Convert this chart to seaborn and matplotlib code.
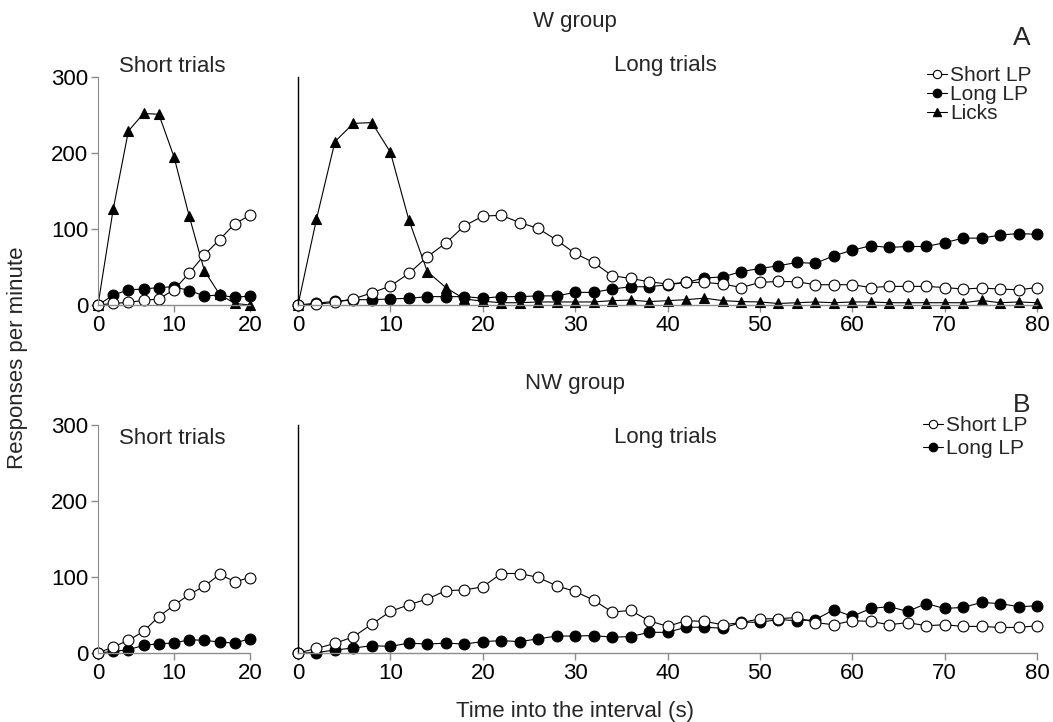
import numpy as np
import matplotlib
matplotlib.use("Agg")
import matplotlib.pyplot as plt
from matplotlib.lines import Line2D
import seaborn as sns

# ---------------- data ----------------
x_short = [0, 2, 4, 6, 8, 10, 12, 14, 16, 18, 20]
x_long = list(range(0, 81, 2))

w_short_shortlp = [0, 2, 3.5, 6, 8, 20, 42, 66, 86, 107, 118]
w_short_longlp = [0, 13, 20, 21, 23, 24, 19, 12, 13, 10, 12]
w_short_licks = [0, 126, 229, 252, 251, 195, 117, 45, 14, 2, 0]

w_long_shortlp = [0, 1, 3.5, 8, 16, 25, 41.5, 63.5, 81.5, 104, 117, 118, 108.5, 100.7,
                  85.4, 67.8, 56, 38.5, 35, 30.6, 27.6, 29.7, 29.7, 27.6, 23, 29.7, 31,
                  30.6, 26.7, 26.7, 26.7, 23, 24.5, 24.5, 24.5, 23, 21, 22.3, 21, 20, 23]
w_long_longlp = [0, 2.5, 4.7, 7, 7, 8, 8.8, 11, 11, 11, 9, 11, 11, 12, 12, 16.6, 16.6,
                 21, 24, 24, 26.7, 29.7, 35.5, 37, 44, 48, 51.6, 56, 54.7, 64.8, 72, 78,
                 75.7, 77, 77, 82, 88, 88, 92, 94, 93]
w_long_licks = [0, 113, 215, 239, 240, 201, 112, 44, 23, 8, 5, 3, 3, 4, 4, 4, 4, 5.7,
                6.5, 4.5, 5.7, 7, 9, 5.7, 4.5, 4, 2, 3, 4, 3, 4, 4, 3, 3, 3, 3, 3, 6, 3,
                4, 3]

nw_short_shortlp = [0, 8, 16.6, 28.5, 48, 62.7, 77, 88, 103.4, 94, 99]
nw_short_longlp = [0, 2, 4.4, 10, 12.3, 13, 17.5, 16.6, 14.5, 13, 19]

nw_long_shortlp = [0, 6, 12.6, 21.4, 38, 54.7, 63.5, 71, 82, 83, 87, 104.6, 104.6, 99.4,
                   88.4, 81, 69.6, 53.9, 56, 42.5, 35, 42.5, 41.6, 37.2, 40, 45, 45,
                   46.8, 40, 37.2, 42.5, 41.6, 37.2, 40, 35.9, 37.2, 35, 35, 33.6, 33.6,
                   35.9]
nw_long_longlp = [0, 0.5, 4, 6.6, 9.6, 8.7, 13, 11.8, 13, 11.8, 15, 16.3, 15, 18.6, 22.3,
                  22.3, 23, 20.8, 21.6, 27.2, 27.2, 33.9, 33.9, 32.6, 40.5, 40.5, 44,
                  42.5, 43.8, 57, 48.2, 58.6, 61, 54.7, 65, 58.6, 60, 66.5, 65, 61, 62]

series_labels = ["Short LP", "Long LP", "Licks"]

# ---------------- style ----------------
sns.set_style("ticks")
plt.rcParams["font.family"] = ["Liberation Sans", "DejaVu Sans"]
FS = 16
plt.rcParams["font.size"] = FS

W, H = 1053, 722
fig = plt.figure(figsize=(W / 100, H / 100), dpi=100)

def fx(px):
    return px / W

def fy(py):
    return 1 - py / H

GREY = "#8c8c8c"

def make_axes(left_px, right_px, top_px, bottom_px):
    return fig.add_axes([fx(left_px), fy(bottom_px), (right_px - left_px) / W,
                         (bottom_px - top_px) / H])

ax_tl = make_axes(98, 250, 77, 305)
ax_tr = make_axes(298, 1037, 77, 305)
ax_bl = make_axes(98, 250, 425, 653)
ax_br = make_axes(298, 1037, 425, 653)

MS = 7.8
LW = 0.8

def draw(ax, x, y, kind):
    common = dict(ax=ax, color="black", linewidth=LW, markersize=MS,
                  markeredgecolor="black", markeredgewidth=0.8, clip_on=False,
                  legend=False)
    if kind == "short":
        sns.lineplot(x=x, y=y, marker="o", markerfacecolor="white", **common)
    elif kind == "long":
        sns.lineplot(x=x, y=y, marker="o", markerfacecolor="black", **common)
    else:
        sns.lineplot(x=x, y=y, marker="^", markerfacecolor="black", **common)

draw(ax_tl, x_short, w_short_licks, "licks")
draw(ax_tl, x_short, w_short_longlp, "long")
draw(ax_tl, x_short, w_short_shortlp, "short")

draw(ax_tr, x_long, w_long_licks, "licks")
draw(ax_tr, x_long, w_long_longlp, "long")
draw(ax_tr, x_long, w_long_shortlp, "short")

draw(ax_bl, x_short, nw_short_longlp, "long")
draw(ax_bl, x_short, nw_short_shortlp, "short")

draw(ax_br, x_long, nw_long_longlp, "long")
draw(ax_br, x_long, nw_long_shortlp, "short")

for ax, xmax, xt in [(ax_tl, 20, [0, 10, 20]), (ax_bl, 20, [0, 10, 20]),
                     (ax_tr, 80, list(range(0, 81, 10))), (ax_br, 80, list(range(0, 81, 10)))]:
    ax.set_xlim(0, xmax)
    ax.set_ylim(0, 300)
    ax.set_xticks(xt)
    ax.set_xlabel("")
    ax.set_ylabel("")
    for s in ["top", "right"]:
        ax.spines[s].set_visible(False)
    ax.spines["bottom"].set_color(GREY)
    ax.spines["bottom"].set_linewidth(1.0)
    ax.tick_params(axis="x", colors=GREY, labelcolor="black", length=5, width=1.0,
                   labelsize=FS, pad=2)
    ax.patch.set_alpha(0)

for ax in (ax_tl, ax_bl):
    ax.set_yticks([0, 100, 200, 300])
    ax.spines["left"].set_color(GREY)
    ax.tick_params(axis="y", colors=GREY, labelcolor="black", length=5, width=1.0,
                   labelsize=FS, pad=2)

for ax in (ax_tr, ax_br):
    ax.set_yticks([])
    ax.spines["left"].set_color("black")
    ax.spines["left"].set_linewidth(1.0)

# ---------------- texts ----------------
fig.text(fx(575), fy(21), "W group", ha="center", va="center", fontsize=FS)
fig.text(fx(575), fy(384), "NW group", ha="center", va="center", fontsize=FS)
fig.text(fx(1022), fy(38), "A", ha="center", va="center", fontsize=19)
fig.text(fx(1022), fy(405), "B", ha="center", va="center", fontsize=19)
fig.text(fx(172), fy(66), "Short trials", ha="center", va="center", fontsize=FS)
fig.text(fx(665), fy(66), "Long trials", ha="center", va="center", fontsize=FS)
fig.text(fx(172), fy(438), "Short trials", ha="center", va="center", fontsize=FS)
fig.text(fx(665), fy(438), "Long trials", ha="center", va="center", fontsize=FS)
fig.text(fx(18), fy(358), "Responses per minute", ha="center", va="center",
         rotation=90, fontsize=FS)
fig.text(fx(575), fy(711), "Time into the interval (s)", ha="center", va="center",
         fontsize=FS)

# ---------------- legends ----------------
def handles(n):
    hs = [
        Line2D([], [], color="black", lw=LW, marker="o", markersize=6,
               markerfacecolor="white", markeredgecolor="black", markeredgewidth=0.8),
        Line2D([], [], color="black", lw=LW, marker="o", markersize=6,
               markerfacecolor="black", markeredgecolor="black"),
        Line2D([], [], color="black", lw=LW, marker="^", markersize=6,
               markerfacecolor="black", markeredgecolor="black"),
    ]
    return hs[:n]

leg1 = fig.legend(handles(3), series_labels, loc="upper left",
                  bbox_to_anchor=(fx(927), fy(66)), frameon=False, fontsize=15,
                  handlelength=0.95, handletextpad=0.15, labelspacing=0.0,
                  borderpad=0, borderaxespad=0)
leg2 = fig.legend(handles(2), series_labels[:2], loc="upper left",
                  bbox_to_anchor=(fx(923), fy(416)), frameon=False, fontsize=15,
                  handlelength=0.95, handletextpad=0.15, labelspacing=0.2,
                  borderpad=0, borderaxespad=0)

fig.savefig("out.png", dpi=100)
